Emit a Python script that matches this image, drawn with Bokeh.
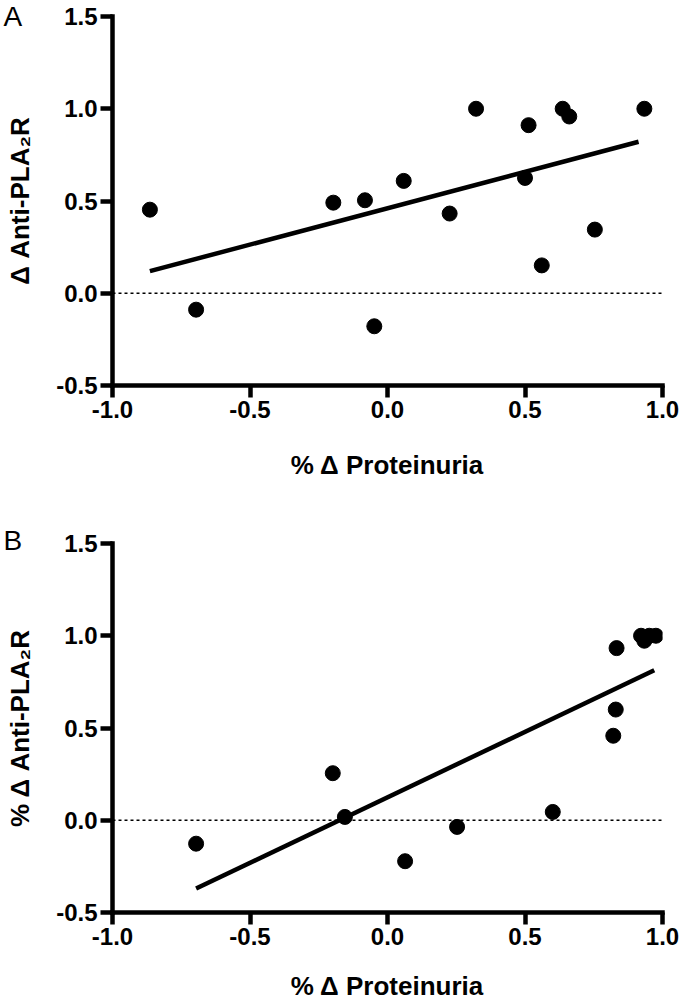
from bokeh.plotting import figure
from bokeh.models import Span, Title, FixedTicker
from bokeh.layouts import column
from bokeh.embed import file_html
from bokeh.resources import INLINE

# ---- data ----
a_x = [-0.864, -0.696, -0.197, -0.082, -0.048, 0.059, 0.226, 0.322, 0.500, 0.513, 0.561, 0.637, 0.661, 0.754, 0.934]
a_y = [0.453, -0.089, 0.491, 0.504, -0.179, 0.609, 0.432, 1.000, 0.625, 0.911, 0.151, 1.000, 0.958, 0.345, 1.000]
a_fit_x = [-0.864, 0.913]
a_fit_y = [0.120, 0.821]

b_x = [-0.696, -0.199, -0.155, 0.064, 0.253, 0.601, 0.821, 0.830, 0.833, 0.922, 0.934, 0.952, 0.976]
b_y = [-0.127, 0.255, 0.018, -0.222, -0.036, 0.045, 0.458, 0.600, 0.933, 1.000, 0.973, 1.000, 1.000]
b_fit_x = [-0.696, 0.970]
b_fit_y = [-0.370, 0.813]

x_ticks = [-1.0, -0.5, 0.0, 0.5, 1.0]
x_tick_labels = ["-1.0", "-0.5", "0.0", "0.5", "1.0"]
y_ticks = [-0.5, 0.0, 0.5, 1.0, 1.5]
y_tick_labels = ["-0.5", "0.0", "0.5", "1.0", "1.5"]

x_title = "% \u0394 Proteinuria"
a_y_title = "\u0394 Anti-PLA\u2082R"
b_y_title = "% \u0394 Anti-PLA\u2082R"

FONT = "Liberation Sans"


def make_panel(xs, ys, fx, fy, ytitle, letter, height, top, bottom, xlab_standoff, letter_standoff):
    p = figure(width=680, height=height, x_range=(x_ticks[0], x_ticks[-1]),
               y_range=(y_ticks[0], y_ticks[-1]),
               output_backend="svg", toolbar_location=None,
               min_border_left=112, min_border_right=18,
               min_border_top=top, min_border_bottom=bottom)
    p.outline_line_color = None
    p.xgrid.visible = False
    p.ygrid.visible = False
    p.background_fill_color = "white"
    p.border_fill_color = "white"

    p.add_layout(Span(location=0, dimension="width", line_color="black",
                      line_width=1.5, line_dash="3 3"))

    p.line(fx, fy, line_color="black", line_width=4.5)
    p.scatter(xs, ys, size=15, fill_color="black", line_color="black")

    p.xaxis.ticker = FixedTicker(ticks=x_ticks)
    p.yaxis.ticker = FixedTicker(ticks=y_ticks)
    p.xaxis.major_label_overrides = dict(zip(x_ticks, x_tick_labels))
    p.yaxis.major_label_overrides = dict(zip(y_ticks, y_tick_labels))
    for ax in (p.xaxis[0], p.yaxis[0]):
        ax.axis_line_width = 4.5
        ax.axis_line_color = "black"
        ax.axis_line_cap = "square"
        ax.major_tick_line_width = 4.5
        ax.major_tick_line_color = "black"
        ax.major_tick_out = 12
        ax.major_tick_in = 0
        ax.minor_tick_line_color = None
        ax.major_label_text_font = FONT
        ax.major_label_text_font_style = "bold"
        ax.major_label_text_font_size = "24px"
        ax.major_label_text_color = "black"
        ax.major_label_standoff = 3
        ax.axis_label_text_font = FONT
        ax.axis_label_text_font_style = "bold"
        ax.axis_label_text_color = "black"
    p.xaxis.axis_label_text_font_size = "26px"
    p.yaxis.axis_label_text_font_size = "26px"
    p.xaxis.axis_label = x_title
    p.xaxis.axis_label_standoff = xlab_standoff
    p.yaxis.axis_label = ytitle
    p.yaxis.axis_label_standoff = 18

    # panel letter as a left-aligned title pulled out to the canvas' left edge
    t = Title(text=letter, align="left", vertical_align="bottom", offset=-109,
              text_font=FONT, text_font_size="28px", text_font_style="normal",
              text_color="black")
    try:
        t.standoff = letter_standoff
    except ValueError:
        t.standoff = 0
    p.add_layout(t, "above")
    return p


pa = make_panel(a_x, a_y, a_fit_x, a_fit_y, a_y_title, "A", 508, 16, 123, 29, -31)
pb = make_panel(b_x, b_y, b_fit_x, b_fit_y, b_y_title, "B", 497, 35, 93, 23, -25)

layout = column(pa, pb, spacing=0)
open("out.html", "w").write(file_html(layout, INLINE))
